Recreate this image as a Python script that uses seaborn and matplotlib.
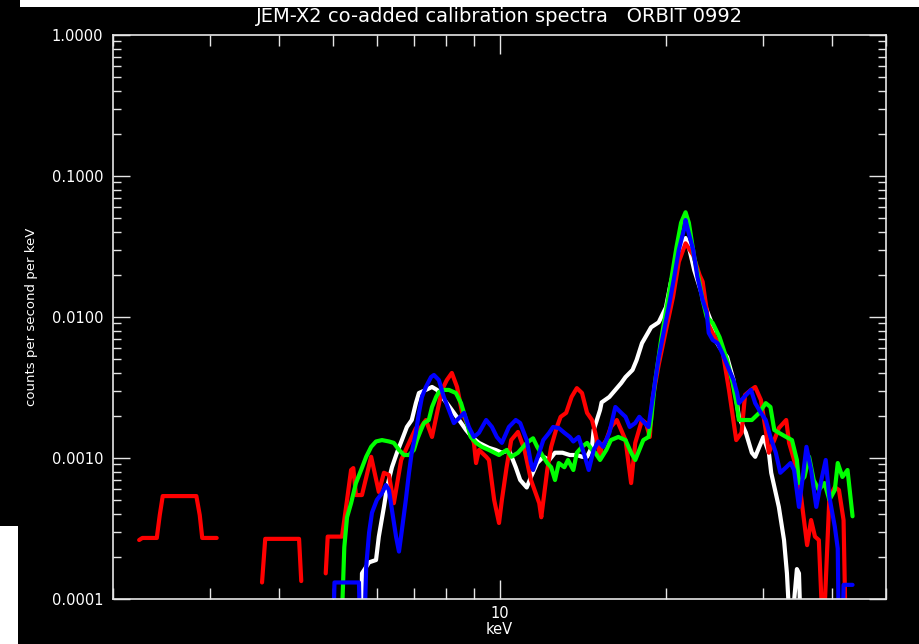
import numpy as np
import pandas as pd
import matplotlib
matplotlib.use("Agg")
import matplotlib.pyplot as plt
import seaborn as sns
from matplotlib.ticker import FixedLocator, FixedFormatter, NullFormatter, LogLocator, FuncFormatter
from matplotlib.patches import Rectangle

nan = np.nan

# Energies (keV) and count rates (counts/s/keV); NaN marks a break in a spectrum.
# Points at 5e-5 lie below the plotted range and are clipped at the axis.
red_kev = [2.23, 2.26, 2.40, 2.43, 2.46, 2.83, 2.87, 2.90, 3.08, nan,
           3.72, 3.77, 4.34, 4.38, nan,
           4.85, 4.89, 5.19, 5.30, 5.39, 5.44, 5.50, 5.64, 5.86, 6.05, 6.18, 6.31, 6.44, 6.64,
           6.86, 7.06, 7.15, 7.36, 7.55, 7.71, 7.87, 8.03, 8.20, 8.38, 8.56, 8.73, 8.99, 9.07,
           9.18, 9.46, 9.57, 9.78, 9.98, 10.1, 10.3, 10.5, 10.8, 11.1, 11.4, 11.7, 11.8, 11.9,
           12.2, 12.4, 12.7, 12.9, 13.2, 13.5, 13.8, 14.1, 14.4, 14.7, 14.9, 15.2, 15.3, 15.6,
           15.9, 16.3, 16.6, 16.9, 17.3, 17.6, 18.1, 18.4, 18.7, 18.9, 19.4, 20.0, 20.6, 21.1,
           21.7, 22.4, 23.0, 23.3, 23.7, 23.9, 24.4, 25.3, 26.0, 26.8, 27.4, 27.8, 28.5, 29.0,
           29.7, 30.3, 30.7, 31.4, 32.0, 33.0, 33.4, 34.1, 34.8, 35.4, 36.0, 36.6, 37.2, 37.8,
           38.5, 39.5, 40.4, 41.1, 41.9, 42.3]
red_cps = [0.000262, 0.000271, 0.000271, 0.000394, 0.000537, 0.000537, 0.000394, 0.000271, 0.000271, nan,
           0.000131, 0.000267, 0.000267, 0.000134, nan,
           0.000152, 0.000277, 0.000277, 0.000504, 0.000822, 0.000848, 0.000546, 0.000546, 0.00102,
           0.000574, 0.000786, 0.000757, 0.000478, 0.000968, 0.00128, 0.00163, 0.00158, 0.00186,
           0.00141, 0.00209, 0.00304, 0.00357, 0.00401, 0.00319, 0.00209, 0.00177, 0.00128,
           0.000921, 0.00114, 0.00102, 0.000968, 0.000504, 0.000346, 0.000504, 0.000860, 0.00134,
           0.00153, 0.00114, 0.000698, 0.000525, 0.000478, 0.000380, 0.000822, 0.00120, 0.00166,
           0.00196, 0.00209, 0.00271, 0.00313, 0.00289, 0.00209, 0.00186, 0.00151, 0.00102,
           0.00120, 0.00134, 0.00166, 0.00186, 0.00158, 0.00134, 0.000664, 0.00128, 0.00186,
           0.00177, 0.00141, 0.00258, 0.00457, 0.00808, 0.0139, 0.0246, 0.0333, 0.0275, 0.0199,
           0.0178, 0.0112, 0.00877, 0.00745, 0.00583, 0.00304, 0.00134, 0.00151, 0.00280, 0.00304,
           0.00319, 0.00258, 0.00158, 0.00109, 0.00134, 0.00163, 0.00186, 0.00128, 0.000968,
           0.000698, 0.000408, 0.000241, 0.000363, 0.000277, 0.000262, 0.00005, 0.000528,
           0.000621, 0.000593, 0.000363, 0.00005]

white_kev = [5.62, 5.64, 5.81, 5.98, 6.05, 6.18, 6.26, 6.39, 6.53, 6.66, 6.80, 6.94, 7.06, 7.15,
             7.36, 7.55, 7.71, 7.87, 8.03, 8.20, 8.45, 8.70, 8.91, 9.18, 9.57, 9.84, 10.1, 10.4,
             10.7, 10.9, 11.2, 11.4, 11.7, 12.0, 12.3, 12.6, 13.0, 13.4, 13.8, 14.1, 14.4, 14.7,
             14.8, 15.0, 15.2, 15.3, 15.8, 16.2, 16.6, 16.9, 17.4, 17.7, 18.1, 18.8, 19.4, 20.0,
             20.4, 20.9, 21.3, 21.7, 22.0, 22.5, 23.0, 23.7, 24.2, 24.4, 25.0, 25.8, 26.5, 27.1,
             27.9, 28.6, 29.0, 29.7, 30.0, 30.7, 31.0, 32.0, 32.7, 33.1, 33.6, 34.5, 34.8, 35.1]
white_cps = [0.00005, 0.000152, 0.000182, 0.000189, 0.000277, 0.000450, 0.000618, 0.000860,
             0.00110, 0.00134, 0.00166, 0.00186, 0.00245, 0.00289, 0.00304, 0.00319, 0.00304,
             0.00271, 0.00245, 0.00219, 0.00186, 0.00158, 0.00141, 0.00128, 0.00118, 0.00114,
             0.00109, 0.00114, 0.000860, 0.000698, 0.000618, 0.000734, 0.000921, 0.00102,
             0.000968, 0.00109, 0.00109, 0.00105, 0.00105, 0.00102, 0.00102, 0.00120, 0.00158,
             0.00186, 0.00219, 0.00248, 0.00271, 0.00304, 0.00340, 0.00375, 0.00421, 0.00495,
             0.00652, 0.00845, 0.00916, 0.0117, 0.0174, 0.0254, 0.0314, 0.0363, 0.0314, 0.0215,
             0.0164, 0.0112, 0.00906, 0.00720, 0.00612, 0.00520, 0.00357, 0.00195, 0.00151,
             0.00109, 0.00102, 0.00128, 0.00141, 0.00109, 0.000786, 0.000450, 0.000262,
             0.000152, 0.00005, 0.000163, 0.000152, 0.00005]

green_kev = [5.17, 5.24, 5.30, 5.39, 5.50, 5.62, 5.74, 5.86, 5.98, 6.13, 6.31, 6.44, 6.58, 6.72,
             6.86, 7.00, 7.09, 7.21, 7.30, 7.45, 7.55, 7.68, 7.77, 7.93, 8.10, 8.34, 8.52, 8.70,
             8.87, 9.07, 9.29, 9.57, 9.98, 10.3, 10.5, 10.8, 11.2, 11.5, 11.7, 12.0, 12.2, 12.4,
             12.6, 12.8, 13.1, 13.3, 13.6, 13.8, 14.1, 14.4, 14.7, 14.9, 15.2, 15.6, 15.9, 16.4,
             16.9, 17.3, 17.6, 17.9, 18.2, 18.6, 18.8, 19.1, 19.6, 20.3, 20.9, 21.3, 21.7, 22.0,
             22.5, 23.0, 23.3, 23.7, 24.3, 25.0, 25.8, 26.4, 26.9, 27.1, 27.9, 28.6, 29.5, 30.3,
             30.9, 31.4, 32.0, 33.0, 33.8, 34.5, 34.8, 35.6, 36.3, 37.0, 37.8, 38.7, 39.5, 40.4,
             40.9, 41.7, 42.6, 43.5]
green_cps = [0.00005, 0.000233, 0.000380, 0.000478, 0.000664, 0.000822, 0.00102, 0.00120,
             0.00131, 0.00134, 0.00131, 0.00128, 0.00114, 0.00105, 0.00105, 0.00114, 0.00134,
             0.00158, 0.00177, 0.00186, 0.00230, 0.00271, 0.00294, 0.00304, 0.00304, 0.00289,
             0.00245, 0.00186, 0.00141, 0.00128, 0.00120, 0.00114, 0.00105, 0.00114, 0.00102,
             0.00109, 0.00128, 0.00138, 0.00120, 0.00102, 0.000921, 0.000860, 0.000698, 0.000921,
             0.000860, 0.000968, 0.000822, 0.00109, 0.00120, 0.00128, 0.00114, 0.00109, 0.000968,
             0.00114, 0.00134, 0.00141, 0.00134, 0.00109, 0.000968, 0.00114, 0.00134, 0.00141,
             0.00186, 0.00340, 0.00687, 0.0155, 0.0314, 0.0466, 0.0553, 0.0466, 0.0265, 0.0174,
             0.0132, 0.0100, 0.00906, 0.00720, 0.00495, 0.00340, 0.00230, 0.00186, 0.00186,
             0.00186, 0.00209, 0.00245, 0.00230, 0.00158, 0.00151, 0.00141, 0.00134, 0.000968,
             0.000664, 0.000734, 0.00102, 0.000698, 0.000593, 0.000664, 0.000504, 0.000593,
             0.000921, 0.000734, 0.000822, 0.000386]

blue_kev = [5.00, 5.03, 5.57, 5.60, nan,
            5.69, 5.74, 5.81, 5.88, 6.00, 6.13, 6.23, 6.31, 6.39, 6.50, 6.58, 6.66, 6.77, 6.86,
            6.94, 7.06, 7.15, 7.24, 7.36, 7.52, 7.61, 7.77, 7.93, 8.10, 8.27, 8.45, 8.63, 8.80,
            8.99, 9.18, 9.46, 9.69, 9.89, 10.1, 10.4, 10.7, 10.9, 11.2, 11.4, 11.5, 11.8, 12.0,
            12.3, 12.5, 12.8, 13.1, 13.4, 13.6, 13.9, 14.2, 14.5, 14.8, 15.1, 15.4, 15.8, 16.2,
            16.6, 16.9, 17.2, 17.6, 17.9, 18.3, 18.6, 18.9, 19.4, 19.8, 20.3, 20.7, 21.1, 21.6,
            21.7, 22.0, 22.4, 22.8, 23.3, 23.7, 23.9, 24.3, 24.8, 25.3, 25.9, 26.5, 26.9, 27.1,
            27.7, 28.5, 29.0, 29.7, 30.3, 30.9, 31.6, 32.2, 33.0, 33.6, 34.1, 34.8, 35.3, 35.9,
            36.6, 37.4, 38.2, 38.9, 39.5, 40.4, 40.9, 41.1, nan,
            41.7, 41.9, 43.5]
blue_cps = [0.00005, 0.000131, 0.000131, 0.00005, nan,
            0.00005, 0.000169, 0.000296, 0.000409, 0.000504, 0.000563, 0.000643, 0.000593,
            0.000428, 0.000277, 0.000217, 0.000308, 0.000504, 0.000786, 0.00110, 0.00151,
            0.00209, 0.00271, 0.00319, 0.00375, 0.00388, 0.00357, 0.00271, 0.00219, 0.00177,
            0.00192, 0.00209, 0.00166, 0.00141, 0.00151, 0.00186, 0.00166, 0.00141, 0.00128,
            0.00166, 0.00186, 0.00177, 0.00134, 0.000921, 0.000822, 0.00109, 0.00134, 0.00151,
            0.00166, 0.00163, 0.00151, 0.00141, 0.00131, 0.00141, 0.00109, 0.000822, 0.00114,
            0.00131, 0.00120, 0.00151, 0.00230, 0.00209, 0.00196, 0.00166, 0.00177, 0.00196,
            0.00177, 0.00166, 0.00258, 0.00513, 0.00771, 0.0126, 0.0192, 0.0299, 0.0430, 0.0487,
            0.0391, 0.0299, 0.0192, 0.0132, 0.0107, 0.00771, 0.00687, 0.00652, 0.00552, 0.00440,
            0.00357, 0.00289, 0.00245, 0.00271, 0.00304, 0.00245, 0.00209, 0.00186, 0.00141,
            0.00109, 0.000786, 0.000860, 0.000921, 0.000822, 0.000450, 0.000698, 0.00120,
            0.000822, 0.000450, 0.000698, 0.000968, 0.000528, 0.000326, 0.000228, 0.00005, nan,
            0.00005, 0.000126, 0.000126]

x_minor_ticks = [2, 3, 4, 5, 6, 7, 8, 9, 20, 30, 40, 50]
y_major_ticks = [1e-4, 1e-3, 1e-2, 1e-1, 1.0]


def spectrum_frame(kev, cps):
    df = pd.DataFrame({"keV": kev, "cps": cps})
    df["segment"] = df["keV"].isna().cumsum()
    return df.dropna()


sns.set_theme(style="ticks")
plt.rcParams["font.family"] = ["DejaVu Sans"]

fig = plt.figure(figsize=(9.19, 6.44), dpi=100, facecolor="black")
ax = fig.add_axes([113 / 919, 45 / 644, 773 / 919, 564 / 644])
ax.set_facecolor("black")

for kev, cps, color in [(white_kev, white_cps, "#ffffff"),
                        (red_kev, red_cps, "#ff0000"),
                        (green_kev, green_cps, "#00ff00"),
                        (blue_kev, blue_cps, "#0000ff")]:
    sns.lineplot(data=spectrum_frame(kev, cps), x="keV", y="cps", units="segment",
                 estimator=None, sort=False, color=color, lw=3.0, ax=ax, legend=False)

ax.set_xscale("log")
ax.set_yscale("log")
ax.set_xlim(2, 50)
ax.set_ylim(1e-4, 1)

ax.xaxis.set_major_locator(FixedLocator([10]))
ax.xaxis.set_major_formatter(FixedFormatter(["10"]))
ax.xaxis.set_minor_locator(FixedLocator(x_minor_ticks))
ax.xaxis.set_minor_formatter(NullFormatter())
ax.yaxis.set_major_locator(FixedLocator(y_major_ticks))
ax.yaxis.set_major_formatter(FuncFormatter(lambda v, _: f"{v:.4f}"))
ax.yaxis.set_minor_locator(LogLocator(base=10, subs=np.arange(2, 10)))
ax.yaxis.set_minor_formatter(NullFormatter())

edge = "#e6e6e6"
for sp in ax.spines.values():
    sp.set_color(edge)
    sp.set_linewidth(1.2)
ax.tick_params(which="both", direction="in", top=True, right=True, colors=edge,
               labelcolor="white", width=1.0)
ax.tick_params(axis="x", which="major", length=14, pad=5, labelsize=10.5)
ax.tick_params(axis="x", which="minor", length=8)
ax.tick_params(axis="y", which="major", length=12, pad=7, labelsize=10.5)
ax.tick_params(axis="y", which="minor", length=6)

ax.set_title("JEM-X2 co-added calibration spectra   ORBIT 0992", color="white",
             fontsize=14, pad=9)
ax.set_xlabel("keV", color="white", fontsize=10.5, labelpad=1)
ax.set_ylabel("counts per second per keV", color="white", fontsize=9.5, labelpad=10)

fig.add_artist(Rectangle((20 / 919, 1 - 7 / 644), 899 / 919, 7 / 644,
                         transform=fig.transFigure, facecolor="white", edgecolor="none"))
fig.add_artist(Rectangle((0, 0), 18 / 919, 118 / 644,
                         transform=fig.transFigure, facecolor="white", edgecolor="none"))

fig.savefig("out.png", dpi=100, facecolor="black")
